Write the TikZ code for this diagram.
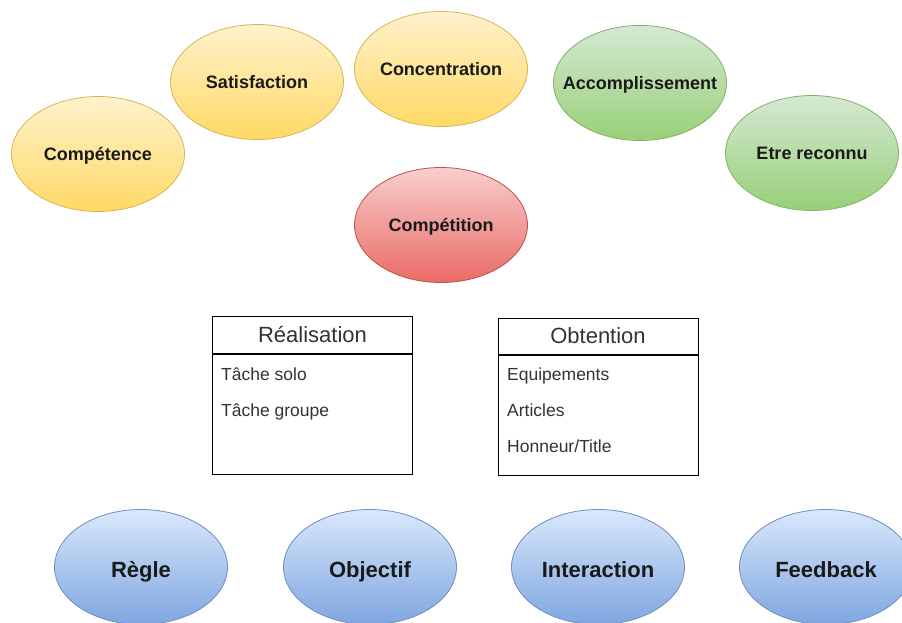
\documentclass[tikz,border=0pt]{standalone}
\usepackage{fontspec}
\setmainfont{Liberation Sans}
\usetikzlibrary{shapes.geometric}
\definecolor{yTop}{HTML}{FFF2CC}\definecolor{yBot}{HTML}{FFD966}\definecolor{yLine}{HTML}{D6B656}
\definecolor{gTop}{HTML}{D5E8D4}\definecolor{gBot}{HTML}{97D077}\definecolor{gLine}{HTML}{82B366}
\definecolor{rTop}{HTML}{F8CECC}\definecolor{rBot}{HTML}{EA6B66}\definecolor{rLine}{HTML}{B85450}
\definecolor{bTop}{HTML}{DAE8FC}\definecolor{bBot}{HTML}{7EA6E0}\definecolor{bLine}{HTML}{6C8EBF}
\definecolor{txt}{HTML}{1A1A1A}
\definecolor{boxtxt}{HTML}{333333}
\tikzset{
  oval/.style={ellipse, minimum width=173pt, minimum height=115pt, inner ysep=0pt, inner xsep=-40pt,
    line width=0.8pt, font=\fontsize{18}{20}\selectfont\bfseries, text=txt,
    text height=12.9pt, text depth=0pt},
  yel/.style={oval, draw=yLine, top color=yTop, bottom color=yBot},
  grn/.style={oval, draw=gLine, top color=gTop, bottom color=gBot},
  red/.style={oval, draw=rLine, top color=rTop, bottom color=rBot},
  blu/.style={oval, draw=bLine, top color=bTop, bottom color=bBot,
    font=\fontsize{22}{26}\selectfont\bfseries, text height=20pt},
  boxtitle/.style={draw=black, line width=1pt, rectangle, minimum width=200pt, inner sep=0pt,
    font=\fontsize{22}{26}\selectfont, text=boxtxt, text height=15.8pt, text depth=0pt},
  boxbody/.style={draw=black, line width=1pt, rectangle, minimum width=200pt, minimum height=120pt, inner sep=0pt},
  item/.style={anchor=base west, inner sep=0pt, font=\fontsize{17.5}{20}\selectfont, text=boxtxt}
}
\begin{document}
\begin{tikzpicture}[x=1pt,y=-1pt]
\useasboundingbox (0,0) rectangle (902,623);
% top ovals
\node[yel] (comp) at (98,154) {Compétence};
\node[yel] (sat) at (257,82) {Satisfaction};
\node[yel] (conc) at (441,69) {Concentration};
\node[grn] (acc) at (640,83) {Accomplissement};
\node[grn] (etre) at (812,153) {Etre reconnu};
\node[red] (compet) at (441,225) {Compétition};
% boxes
\node[boxtitle, minimum height=37pt] (realT) at (312.5,334.5) {Réalisation};
\node[boxbody, anchor=north] (realB) at (realT.south) {};
\node[item] (r1) at (221,380) {Tâche solo};
\node[item] (r2) at (221,416) {Tâche groupe};
\node[boxtitle, minimum height=36pt] (obtT) at (598,336) {Obtention};
\node[boxbody, anchor=north] (obtB) at (obtT.south) {};
\node[item] (o1) at (507,380) {Equipements};
\node[item] (o2) at (507,416) {Articles};
\node[item] (o3) at (507,452) {Honneur/Title};
% bottom ovals
\node[blu] (regle) at (141,567) {Règle};
\node[blu] (obj) at (370,567) {Objectif};
\node[blu] (inter) at (598,567) {Interaction};
\node[blu] (feed) at (826,567) {Feedback};
\end{tikzpicture}
\end{document}
